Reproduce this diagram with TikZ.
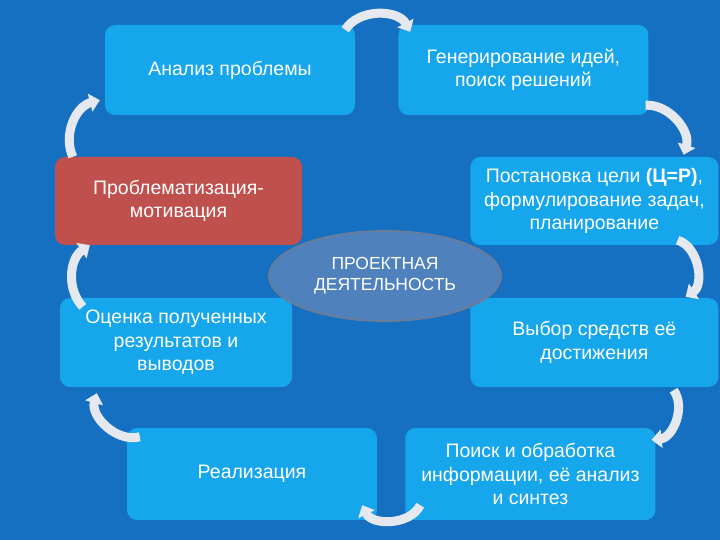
\documentclass[tikz,border=0pt]{standalone}
\usepackage{fontspec}
\setmainfont{Liberation Sans}
\usepackage{tikz}
\usetikzlibrary{shapes.geometric,arrows.meta,positioning}
\definecolor{slidebg}{HTML}{1670C2}
\definecolor{stagecyan}{HTML}{15A6EC}
\definecolor{stagered}{HTML}{C0504D}
\definecolor{coreblue}{HTML}{4F81BD}
\definecolor{coreedge}{HTML}{6A7C98}
\definecolor{cyclegray}{HTML}{E6E8F0}
\tikzset{
    stage/.style={
        rectangle, rounded corners=10pt,
        fill=stagecyan, text=white,
        minimum width=250pt, minimum height=90pt,
        align=center, inner sep=2pt,
        font=\fontsize{19.5}{23.5}\selectfont
    },
    core/.style={
        ellipse, fill=coreblue, draw=coreedge, line width=1.8pt,
        text=white, align=center, inner sep=0pt,
        minimum width=232pt, minimum height=90pt,
        font=\fontsize{17.5}{21}\selectfont
    },
    cyclearrow/.style={-{Triangle[width=18pt,length=10pt]}, line width=9pt, color=cyclegray},
}

\begin{document}
\begin{tikzpicture}[x=1pt, y=1pt]

    % Background
    \fill[slidebg] (0,0) rectangle (720,540);

    % Nodes
    \node[stage] (analiz) at (230,470) {Анализ проблемы};
    \node[stage, right=43pt of analiz] (gener)
        {Генерирование идей,\\поиск решений};

    \node[stage, fill=stagered, minimum width=247pt, minimum height=88pt] (problem) at (178.5,339)
        {Проблематизация-\\мотивация};
    \node[stage, minimum width=248pt, minimum height=88pt, right=168pt of problem] (postan)
        {Постановка цели \textbf{(Ц=Р)},\\формулирование задач,\\планирование};

    \node[stage, minimum width=232pt, minimum height=89pt] (ocenka) at (176,197.5)
        {Оценка полученных\\результатов и\\выводов};
    \node[stage, minimum width=248pt, minimum height=89pt, right=178pt of ocenka] (vybor)
        {Выбор средств её\\достижения};

    \node[stage, minimum height=92pt] (realiz) at (252,66) {Реализация};
    \node[stage, minimum height=92pt, right=28pt of realiz] (poisk)
        {Поиск и обработка\\информации, её анализ\\и синтез};

    % Centre
    \node[core] (proekt) at (385,264) {ПРОЕКТНАЯ\\ДЕЯТЕЛЬНОСТЬ};

    % Arrows (cycle)
    \draw[cyclearrow] ([xshift=-10pt,yshift=-5pt]analiz.north east) to[bend left=60] ([xshift=12pt,yshift=-7pt]gener.north west);
    \draw[cyclearrow] ([xshift=-3pt,yshift=10pt]gener.south east) to[bend left=55] ([xshift=-35pt,yshift=2pt]postan.north east);
    \draw[cyclearrow] ([xshift=-41pt,yshift=5pt]postan.south east) to[bend left=65] ([xshift=-33pt,yshift=1pt]vybor.north east);
    \draw[cyclearrow] ([xshift=-45pt,yshift=-3pt]vybor.south east) to[bend left=60] ([xshift=-4pt,yshift=-12pt]poisk.north east);
    \draw[cyclearrow] ([xshift=15pt,yshift=15pt]poisk.south west) to[bend left=64] ([xshift=-15pt,yshift=15pt]realiz.south east);
    \draw[cyclearrow] ([xshift=13pt,yshift=-9pt]realiz.north west) to[bend left=60] ([xshift=37pt,yshift=-6pt]ocenka.south west);
    \draw[cyclearrow] ([xshift=23pt,yshift=-9pt]ocenka.north west) to[bend left=50] ([xshift=35pt]problem.south west);
    \draw[cyclearrow] ([xshift=18pt]problem.north west) to[bend left=50] ([xshift=-5pt,yshift=15pt]analiz.south west);

\end{tikzpicture}
\end{document}
